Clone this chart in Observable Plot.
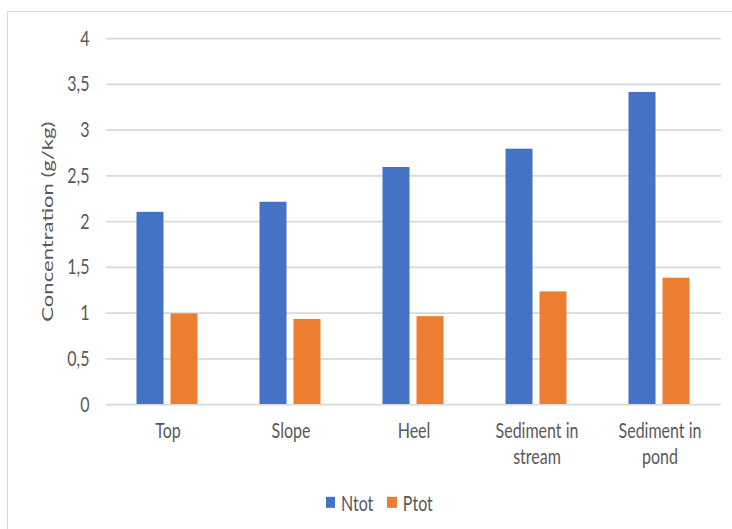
<!DOCTYPE html>
<html>
<head>
<meta charset="utf-8">
<script src="https://cdn.jsdelivr.net/npm/d3@7"></script>
<script src="https://cdn.jsdelivr.net/npm/@observablehq/plot@0.6"></script>
<style>
  html, body { margin: 0; padding: 0; background: #fff; }
  #wrap { position: relative; width: 732px; height: 529px; overflow: hidden; background: #fff; font-family: Lato, "Open Sans", sans-serif; }
  #frame { position: absolute; left: 7px; top: 11px; width: 800px; height: 600px; border: 1.5px solid #d9d9d9; box-sizing: border-box; }
  #scaled { position: absolute; left: 0; top: 0; width: 732px; height: 384px; transform: scaleY(1.38); transform-origin: 0 0; }
  #plot { position: absolute; left: 0; top: 0; }
  #legend { position: absolute; left: 325.5px; top: 355px; display: flex; align-items: center; font-size: 16px; color: #595959; line-height: 18px; }
  .sw { width: 9.5px; height: 7.8px; display: inline-block; margin-right: 6px; }
  .item { display: flex; align-items: center; margin-right: 14px; }
</style>
</head>
<body>
<div id="wrap">
  <div id="frame"></div>
  <div id="scaled">
    <div id="plot"></div>
    <div id="legend"></div>
  </div>
</div>
<script>
const categories = ["Top", "Slope", "Heel", "Sediment in stream", "Sediment in pond"];
const categoryLabels = ["Top", "Slope", "Heel", "Sediment in\nstream", "Sediment in\npond"];
const series = ["Ntot", "Ptot"];
const seriesColors = ["#4472C4", "#ED7D31"];
const ntot = [2.10, 2.21, 2.59, 2.79, 3.41];
const ptot = [0.99, 0.93, 0.96, 1.23, 1.38];
const yTicks = [0, 0.5, 1, 1.5, 2, 2.5, 3, 3.5, 4];
const yTickLabels = ["0", "0,5", "1", "1,5", "2", "2,5", "3", "3,5", "4"];
const yLabel = "Concentration (g/kg)";

const data = [];
categories.forEach((c, i) => {
  data.push({category: c, series: "Ntot", value: ntot[i]});
  data.push({category: c, series: "Ptot", value: ptot[i]});
});

const chart = Plot.plot({
  width: 732,
  height: 340,
  marginLeft: 105.5,
  marginRight: 10.5,
  marginTop: 27.5,
  marginBottom: 47.25,
  style: {fontFamily: "Lato, 'Open Sans', sans-serif", fontSize: "16px", color: "#595959", background: "transparent", overflow: "visible"},
  fx: {domain: categories, padding: 0, axis: null},
  x: {domain: series, paddingInner: 0.203, paddingOuter: 0.887, axis: null},
  y: {domain: [0, 4], axis: null},
  color: {domain: series, range: seriesColors},
  marks: [
    Plot.ruleY(yTicks, {stroke: "#d9d9d9", strokeWidth: 1.3}),
    Plot.barY(data, {fx: "category", x: "series", y: "value", fill: "series"}),
    Plot.axisY({
      ticks: yTicks,
      tickFormat: d => yTickLabels[yTicks.indexOf(d)],
      tickSize: 0,
      tickPadding: 17,
      label: yLabel,
      labelAnchor: "center",
      labelArrow: "none",
      labelOffset: 65,
      fontSize: 16,
      fill: "#595959"
    }),
    Plot.axisFx({
      anchor: "bottom",
      tickSize: 0,
      tickPadding: 11,
      tickFormat: d => categoryLabels[categories.indexOf(d)],
      lineHeight: 1.18,
      label: null,
      fontSize: 16,
      fill: "#595959"
    })
  ]
});
document.getElementById("plot").appendChild(chart);

const legend = document.getElementById("legend");
series.forEach((s, i) => {
  const item = document.createElement("div");
  item.className = "item";
  const sw = document.createElement("span");
  sw.className = "sw";
  sw.style.background = seriesColors[i];
  const t = document.createElement("span");
  t.textContent = s;
  item.appendChild(sw);
  item.appendChild(t);
  legend.appendChild(item);
});
</script>
</body>
</html>
